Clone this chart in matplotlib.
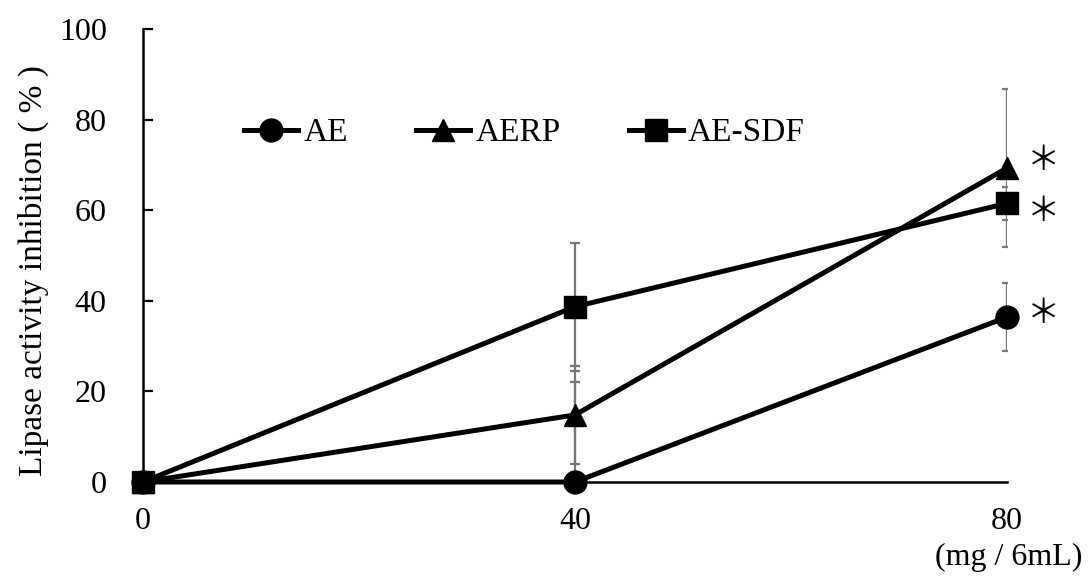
import matplotlib
matplotlib.use("Agg")
import matplotlib.pyplot as plt

# dose (mg / 6mL) and inhibition (%)
doses = [0, 40, 80]
series_names = ["AE", "AERP", "AE-SDF"]
ae_mean = [0, 0, 36.4]
ae_sd = [0, 22.1, 7.5]
aerp_mean = [0, 14.8, 69.3]
aerp_sd = [0, 10.8, 17.4]
aesdf_mean = [0, 38.7, 61.5]
aesdf_sd = [0, 14.1, 3.6]
sig_nudge = [0.9, 1.6, -1.9]
y_ticks = [0, 20, 40, 60, 80, 100]
x_ticks = [0, 40, 80]
x_unit = "(mg / 6mL)"
y_title = "Lipase activity inhibition ( % )"

FONT = ["Liberation Serif", "Noto Sans CJK JP", "DejaVu Sans"]
plt.rcParams["font.family"] = FONT
plt.rcParams["font.size"] = 23

means = [ae_mean, aerp_mean, aesdf_mean]
sds = [ae_sd, aerp_sd, aesdf_sd]
markers = ["o", "^", "s"]
msizes = [16.5, 16, 15.5]

fig = plt.figure(figsize=(10.88, 5.76), dpi=100)
ax = fig.add_axes([0.1314, 0.1632, 0.7941, 0.7865])

handles = []
for name, m, s, mk, ms in zip(series_names, means, sds, markers, msizes):
    ax.errorbar(doses, m, yerr=s, fmt="none", ecolor="#767676",
                elinewidth=1.6, capsize=3.3, capthick=1.6, zorder=2)
    line, = ax.plot(doses, m, color="black", lw=3.6, marker=mk, ms=ms,
                    label=name, zorder=3, clip_on=False)
    handles.append(line)

# significance marks next to the 80 mg points
for m, dy in zip(means, sig_nudge):
    ax.annotate("＊", xy=(doses[-1], m[-1] + dy), xytext=(37, 0),
                textcoords="offset pixels", ha="center", va="center",
                fontsize=24, family=["Noto Sans CJK JP"],
                annotation_clip=False)

ax.set_xlim(0, 80)
ax.set_ylim(0, 100)
ax.set_xticks(x_ticks)
ax.set_yticks(y_ticks)
ax.tick_params(axis="y", direction="in", length=7, width=1.6, pad=26)
ax.tick_params(axis="x", length=0, pad=18)

for side in ["top", "right"]:
    ax.spines[side].set_visible(False)
for side in ["left", "bottom"]:
    ax.spines[side].set_linewidth(1.8)

ax.set_ylabel(y_title, fontsize=24)
ax.yaxis.set_label_coords(-0.109, 0.466)
ax.set_xlabel(x_unit, ha="right")
ax.xaxis.set_label_coords(1.087, -0.135)

ax.legend(handles=handles, ncol=3, frameon=False, loc="center", fontsize=24,
          bbox_to_anchor=(0.4416, 0.77), handlelength=1.62, handletextpad=0.15,
          columnspacing=2.05, borderaxespad=0)

fig.savefig("out.png", dpi=100)
